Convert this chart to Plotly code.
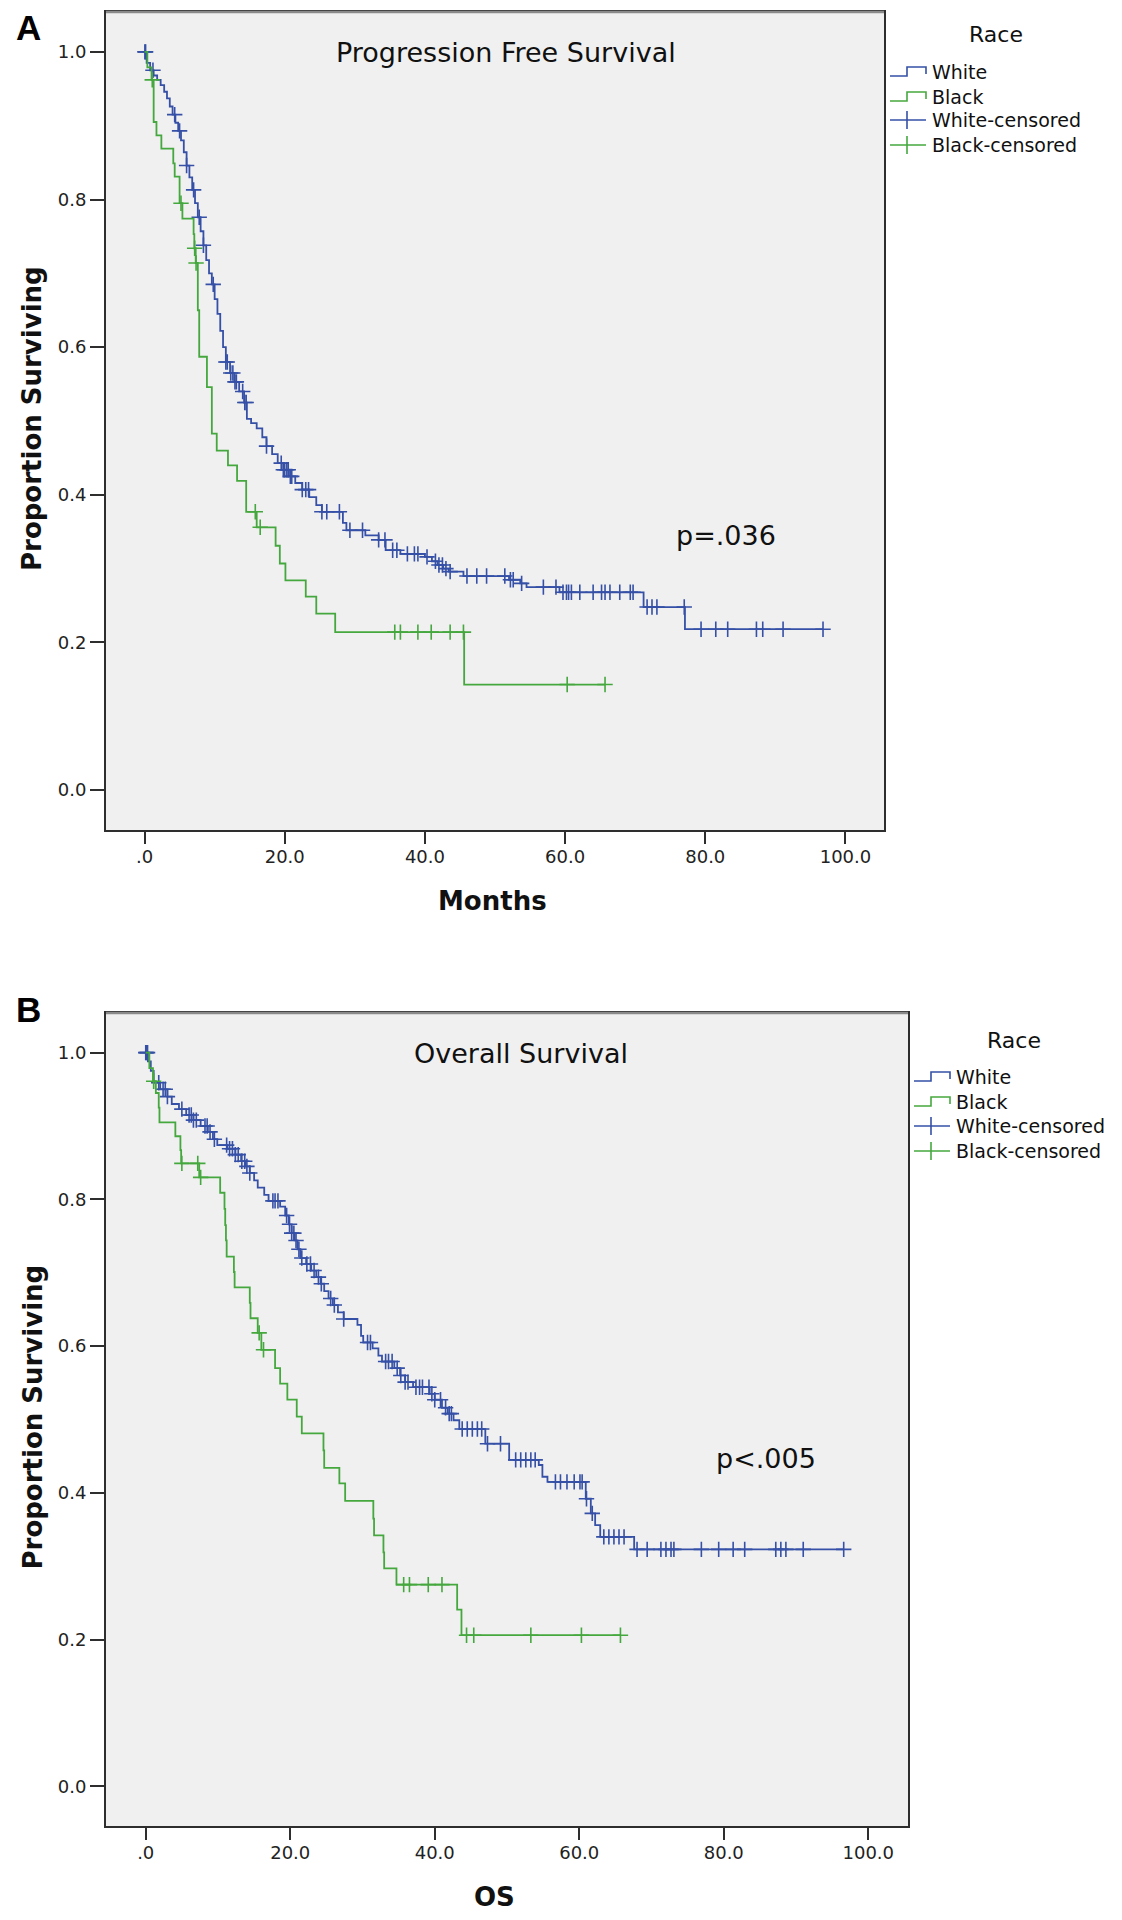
import plotly.graph_objects as go

W, H = 1122, 1920

# ---------------- DATA ----------------
x_tick_vals = [0, 20, 40, 60, 80, 100]
x_tick_text = [".0", "20.0", "40.0", "60.0", "80.0", "100.0"]
y_tick_vals = [0.0, 0.2, 0.4, 0.6, 0.8, 1.0]
y_tick_text = ["0.0", "0.2", "0.4", "0.6", "0.8", "1.0"]

# Progression free survival (months): event times and survival after each event
pfs_white_time = [0.3, 0.8, 1.3, 1.8, 2.3, 2.8, 3.2, 3.6, 4.0, 4.4, 4.8, 5.2, 5.6, 6.0, 6.4, 6.8,
                  7.2, 7.6, 8.0, 8.4, 8.8, 9.2, 9.6, 10.0, 10.4, 10.8, 11.2, 11.6, 12.2, 12.8, 13.5,
                  14.2, 14.6, 15.2, 16.0, 16.8, 17.4, 18.2, 19.0, 19.8, 20.6, 21.5, 22.5, 23.5, 24.5,
                  25.3, 28.3, 28.8, 31.5, 33.4, 34.4, 36.5, 40.0, 41.0, 41.8, 42.6, 43.4, 45.5, 52.0,
                  53.6, 54.5, 59.2, 71.2, 77.1]
pfs_white_surv = [0.985, 0.975, 0.968, 0.962, 0.955, 0.946, 0.937, 0.926, 0.915, 0.904, 0.893, 0.880,
                  0.864, 0.846, 0.830, 0.813, 0.795, 0.776, 0.757, 0.738, 0.718, 0.700, 0.685, 0.665,
                  0.645, 0.622, 0.600, 0.580, 0.565, 0.553, 0.540, 0.525, 0.503, 0.497, 0.490, 0.478,
                  0.466, 0.455, 0.443, 0.434, 0.425, 0.416, 0.407, 0.397, 0.386, 0.377, 0.362, 0.352,
                  0.345, 0.339, 0.325, 0.320, 0.316, 0.310, 0.305, 0.300, 0.296, 0.290, 0.285, 0.280,
                  0.275, 0.268, 0.248, 0.218]
pfs_white_censored = [0.05, 0.15, 1.2, 4.3, 5.0, 6.0, 7.0, 7.8, 8.4, 9.8, 11.6, 11.8, 12.3, 12.6, 12.9,
                      13.1, 14.0, 14.3, 14.5, 17.4, 19.5, 19.8, 20.0, 20.3, 20.5, 20.8, 21.0, 22.5, 23.0,
                      23.4, 25.3, 26.0, 27.8, 29.3, 31.1, 33.4, 34.3, 35.4, 36.0, 37.5, 38.5, 39.0, 40.3,
                      41.5, 42.0, 42.5, 43.0, 43.6, 46.0, 47.4, 48.8, 51.4, 52.2, 52.6, 53.8, 56.9, 58.7,
                      59.7, 60.2, 60.5, 60.9, 62.1, 64.0, 65.2, 65.7, 66.4, 67.8, 69.3, 69.7, 71.7, 72.4,
                      73.1, 77.0, 79.4, 81.5, 83.2, 87.3, 88.2, 91.1, 96.8]

pfs_black_time = [0.4, 1.0, 1.3, 1.7, 2.4, 4.1, 4.3, 5.0, 5.4, 7.0, 7.1, 7.3, 7.6, 7.8, 8.9, 9.6, 10.3,
                  11.9, 13.2, 14.5, 16.0, 18.7, 19.3, 20.1, 23.0, 24.5, 27.2, 45.6]
pfs_black_surv = [0.979, 0.962, 0.905, 0.887, 0.869, 0.849, 0.831, 0.795, 0.774, 0.753, 0.734, 0.714,
                  0.650, 0.587, 0.546, 0.483, 0.460, 0.440, 0.419, 0.377, 0.356, 0.331, 0.307, 0.284,
                  0.262, 0.239, 0.214, 0.143]
pfs_black_censored = [1.1, 5.2, 7.15, 7.35, 15.8, 16.5, 35.7, 36.5, 39.0, 40.9, 43.6, 45.5, 60.3, 65.7]

# Overall survival (months)
os_white_time = [0.3, 0.7, 1.1, 2.0, 3.0, 3.6, 4.6, 5.6, 6.6, 7.6, 8.6, 9.3, 9.9, 11.3, 12.4, 13.2,
                 13.8, 14.4, 15.0, 15.5, 16.4, 17.0, 18.6, 19.3, 19.8, 20.2, 20.6, 21.0, 21.4, 22.2,
                 22.9, 23.6, 24.2, 24.7, 25.3, 25.9, 26.6, 27.4, 29.3, 29.8, 30.1, 31.4, 32.2, 32.7,
                 34.4, 35.2, 35.9, 37.0, 39.3, 40.0, 41.0, 41.8, 42.6, 43.4, 47.0, 50.3, 54.4, 54.9,
                 55.6, 60.9, 61.6, 62.2, 62.9, 67.6]
os_white_surv = [0.988, 0.975, 0.959, 0.950, 0.940, 0.930, 0.923, 0.915, 0.908, 0.900, 0.892, 0.882,
                 0.874, 0.869, 0.861, 0.852, 0.845, 0.836, 0.826, 0.816, 0.806, 0.798, 0.790, 0.778,
                 0.766, 0.754, 0.744, 0.732, 0.720, 0.712, 0.703, 0.694, 0.685, 0.675, 0.665, 0.656,
                 0.646, 0.637, 0.629, 0.614, 0.605, 0.597, 0.587, 0.579, 0.570, 0.560, 0.551, 0.544,
                 0.535, 0.527, 0.516, 0.508, 0.499, 0.487, 0.467, 0.445, 0.438, 0.422, 0.415, 0.392,
                 0.372, 0.356, 0.340, 0.323]
os_white_censored = [0.0, 0.1, 0.25, 1.8, 2.4, 2.7, 3.0, 5.0, 6.0, 6.3, 6.6, 7.0, 8.2, 8.5, 8.9, 9.5,
                     11.2, 11.6, 12.0, 12.4, 12.8, 13.3, 13.7, 14.0, 14.4, 17.6, 17.9, 18.3, 19.5, 19.9,
                     20.2, 20.5, 20.8, 21.2, 21.6, 22.3, 22.8, 23.3, 23.9, 24.3, 25.6, 26.1, 27.4, 30.7,
                     31.1, 33.2, 33.6, 34.1, 34.8, 35.3, 35.9, 36.3, 37.4, 37.9, 38.3, 39.2, 39.6, 40.0,
                     40.8, 41.5, 42.0, 42.3, 43.8, 44.5, 45.2, 45.9, 46.5, 47.3, 49.1, 51.2, 51.9, 52.6,
                     53.3, 53.9, 56.7, 57.4, 58.3, 59.3, 60.1, 60.4, 61.0, 61.8, 63.4, 64.1, 64.8, 65.5,
                     66.2, 68.0, 69.4, 71.3, 72.0, 72.7, 73.1, 76.9, 79.3, 81.3, 82.9, 87.2, 87.9, 88.6,
                     91.0, 96.6]

os_black_time = [0.5, 1.0, 1.4, 1.8, 1.9, 4.1, 4.8, 4.9, 7.4, 10.3, 10.9, 11.0, 11.1, 11.2, 12.2, 12.3,
                 14.4, 14.5, 15.5, 16.0, 17.9, 18.6, 19.6, 20.9, 21.6, 24.6, 24.7, 26.8, 27.6, 31.5,
                 31.6, 32.9, 33.0, 34.7, 43.1, 43.7]
os_black_surv = [0.979, 0.961, 0.945, 0.925, 0.905, 0.886, 0.867, 0.849, 0.830, 0.809, 0.787, 0.765,
                 0.744, 0.722, 0.701, 0.680, 0.659, 0.638, 0.618, 0.595, 0.570, 0.549, 0.527, 0.504,
                 0.481, 0.458, 0.434, 0.413, 0.389, 0.365, 0.342, 0.319, 0.297, 0.275, 0.241, 0.206]
os_black_censored = [1.1, 5.0, 7.2, 7.6, 15.7, 16.3, 35.7, 36.5, 39.1, 41.0, 44.4, 45.4, 53.3, 60.3, 65.7]

groups = ["White", "Black"]
legend_labels = ["White", "Black", "White-censored", "Black-censored"]
panel_titles = ["Progression Free Survival", "Overall Survival"]
panel_letters = ["A", "B"]
x_titles = ["Months", "OS"]
p_texts = ["p=.036", "p<.005"]
p_positions = [(75.6, 0.345), (78.6, 0.447)]  # data coords of p-value labels (left edge, middle)

# ---------------- STYLE ----------------
BLUE = "#3550A6"
GREEN = "#45A83E"
BG = "#F0F0F0"
FONT = "DejaVu Sans"

# pixel layout of the two panels (frame left, right, top, bottom)
panels_px = [(106, 884, 12, 830), (106, 908, 1013, 1826)]
letter_dy = [16, -3]
title_cx = [506, 521]
xtitle_cx = [492, 494]
race_dx = [112, 106]
race_dy = [23, 27]
legend_rows_dy = [[60, 85, 108, 133], [64, 89, 113, 138]]
x_range = [-5.5, 105.5]
y_range = [-0.054, 1.054]


def fx(px):
    return px / W


def fy(py):
    return 1 - py / H


def step_xy(times, surv, cens):
    xs = [0.0] + list(times)
    ys = [1.0] + list(surv)
    end = max(cens) if cens else xs[-1]
    if end > xs[-1]:
        xs.append(end)
        ys.append(ys[-1])
    return xs, ys


def surv_at(t, times, surv):
    s = 1.0
    for ti, si in zip(times, surv):
        if ti <= t:
            s = si
    return s


fig = go.Figure()

datasets = [
    [(pfs_white_time, pfs_white_surv, pfs_white_censored, BLUE),
     (pfs_black_time, pfs_black_surv, pfs_black_censored, GREEN)],
    [(os_white_time, os_white_surv, os_white_censored, BLUE),
     (os_black_time, os_black_surv, os_black_censored, GREEN)],
]

annotations = []
shapes = []

for i, (panel, (l, r, t, b)) in enumerate(zip(datasets, panels_px)):
    xa = "x" if i == 0 else "x2"
    ya = "y" if i == 0 else "y2"
    for times, surv, cens, col in panel:
        xs, ys = step_xy(times, surv, cens)
        fig.add_trace(go.Scatter(x=xs, y=ys, mode="lines", line=dict(color=col, width=1.8, shape="hv"),
                                 xaxis=xa, yaxis=ya, hoverinfo="skip"))
        cy = [surv_at(c, times, surv) for c in cens]
        fig.add_trace(go.Scatter(x=cens, y=cy, mode="markers",
                                 marker=dict(symbol="cross-thin", size=11, line=dict(color=col, width=1.6)),
                                 xaxis=xa, yaxis=ya, hoverinfo="skip"))

    axis_common = dict(showgrid=False, zeroline=False, showline=True, linecolor="#2e2e2e", linewidth=2,
                       mirror=True, ticks="outside", tickwidth=2, tickcolor="#2e2e2e",
                       tickfont=dict(family=FONT, size=18, color="#222"))
    xkey = "xaxis" if i == 0 else "xaxis2"
    ykey = "yaxis" if i == 0 else "yaxis2"
    fig.update_layout(**{
        xkey: dict(domain=[fx(l), fx(r)], range=x_range, tickvals=x_tick_vals, ticktext=x_tick_text,
                   ticklen=12, ticklabelstandoff=-3, anchor=ya, **axis_common),
        ykey: dict(domain=[fy(b), fy(t)], range=y_range, tickvals=y_tick_vals, ticktext=y_tick_text,
                   ticklen=14, anchor=xa, **axis_common),
    })
    # lighter top border
    shapes.append(dict(type="line", xref="paper", yref="paper", x0=fx(l), x1=fx(r), y0=fy(t), y1=fy(t),
                       line=dict(color="#8a8a8a", width=2.5)))

    # panel letter
    annotations.append(dict(text="<b>%s</b>" % panel_letters[i], x=fx(28), y=fy(t + letter_dy[i]),
                            xref="paper", yref="paper", showarrow=False, xanchor="center",
                            yanchor="middle", font=dict(family="Liberation Sans", size=35, color="black")))
    # panel title
    annotations.append(dict(text=panel_titles[i], x=fx(title_cx[i]), y=fy(t + 40), xref="paper",
                            yref="paper", showarrow=False, xanchor="center", yanchor="middle",
                            font=dict(family=FONT, size=27, color="#111")))
    # p value
    annotations.append(dict(text=p_texts[i], x=p_positions[i][0], y=p_positions[i][1], xref=xa, yref=ya,
                            showarrow=False, xanchor="left", yanchor="middle",
                            font=dict(family=FONT, size=27, color="#111")))
    # axis titles
    annotations.append(dict(text="<b>Proportion Surviving</b>", x=fx(32), y=fy((t + b) / 2 - 2),
                            xref="paper", yref="paper", showarrow=False, textangle=-90,
                            xanchor="center", yanchor="middle",
                            font=dict(family=FONT, size=26, color="#111")))
    annotations.append(dict(text="<b>%s</b>" % x_titles[i], x=fx(xtitle_cx[i]), y=fy(b + 71),
                            xref="paper", yref="paper", showarrow=False, xanchor="center",
                            yanchor="middle", font=dict(family=FONT, size=26, color="#111")))

    # legend (manual, SPSS-like)
    annotations.append(dict(text="Race", x=fx(r + race_dx[i]), y=fy(t + race_dy[i]), xref="paper",
                            yref="paper", showarrow=False, xanchor="center", yanchor="middle",
                            font=dict(family=FONT, size=22, color="#111")))
    rows = [t + d for d in legend_rows_dy[i]]
    cols = [BLUE, GREEN, BLUE, GREEN]
    for k, (lab, ry, col) in enumerate(zip(legend_labels, rows, cols)):
        annotations.append(dict(text=lab, x=fx(r + 46), y=fy(ry), xref="paper", yref="paper",
                                showarrow=False, xanchor="left", yanchor="middle",
                                font=dict(family=FONT, size=19, color="#111")))
        x0, xm, x1 = fx(r + 6), fx(r + 23), fx(r + 42)
        if k < 2:
            lo, hi = fy(ry + 4), fy(ry - 5)
            shapes.append(dict(type="path", xref="paper", yref="paper",
                               path="M %f,%f L %f,%f L %f,%f L %f,%f L %f,%f" % (
                                   x0, lo, xm, lo, xm, hi, x1, hi, x1, fy(ry + 2)),
                               line=dict(color=col, width=1.6)))
        else:
            shapes.append(dict(type="line", xref="paper", yref="paper", x0=x0, x1=x1, y0=fy(ry), y1=fy(ry),
                               line=dict(color=col, width=1.6)))
            shapes.append(dict(type="line", xref="paper", yref="paper", x0=xm, x1=xm, y0=fy(ry - 9),
                               y1=fy(ry + 9), line=dict(color=col, width=1.6)))

fig.update_layout(width=W, height=H, margin=dict(l=0, r=0, t=0, b=0), paper_bgcolor="white",
                  plot_bgcolor=BG, showlegend=False, annotations=annotations, shapes=shapes)

fig.write_html("out.html", config={"displayModeBar": False},
               post_script="document.body.style.margin='0';")
